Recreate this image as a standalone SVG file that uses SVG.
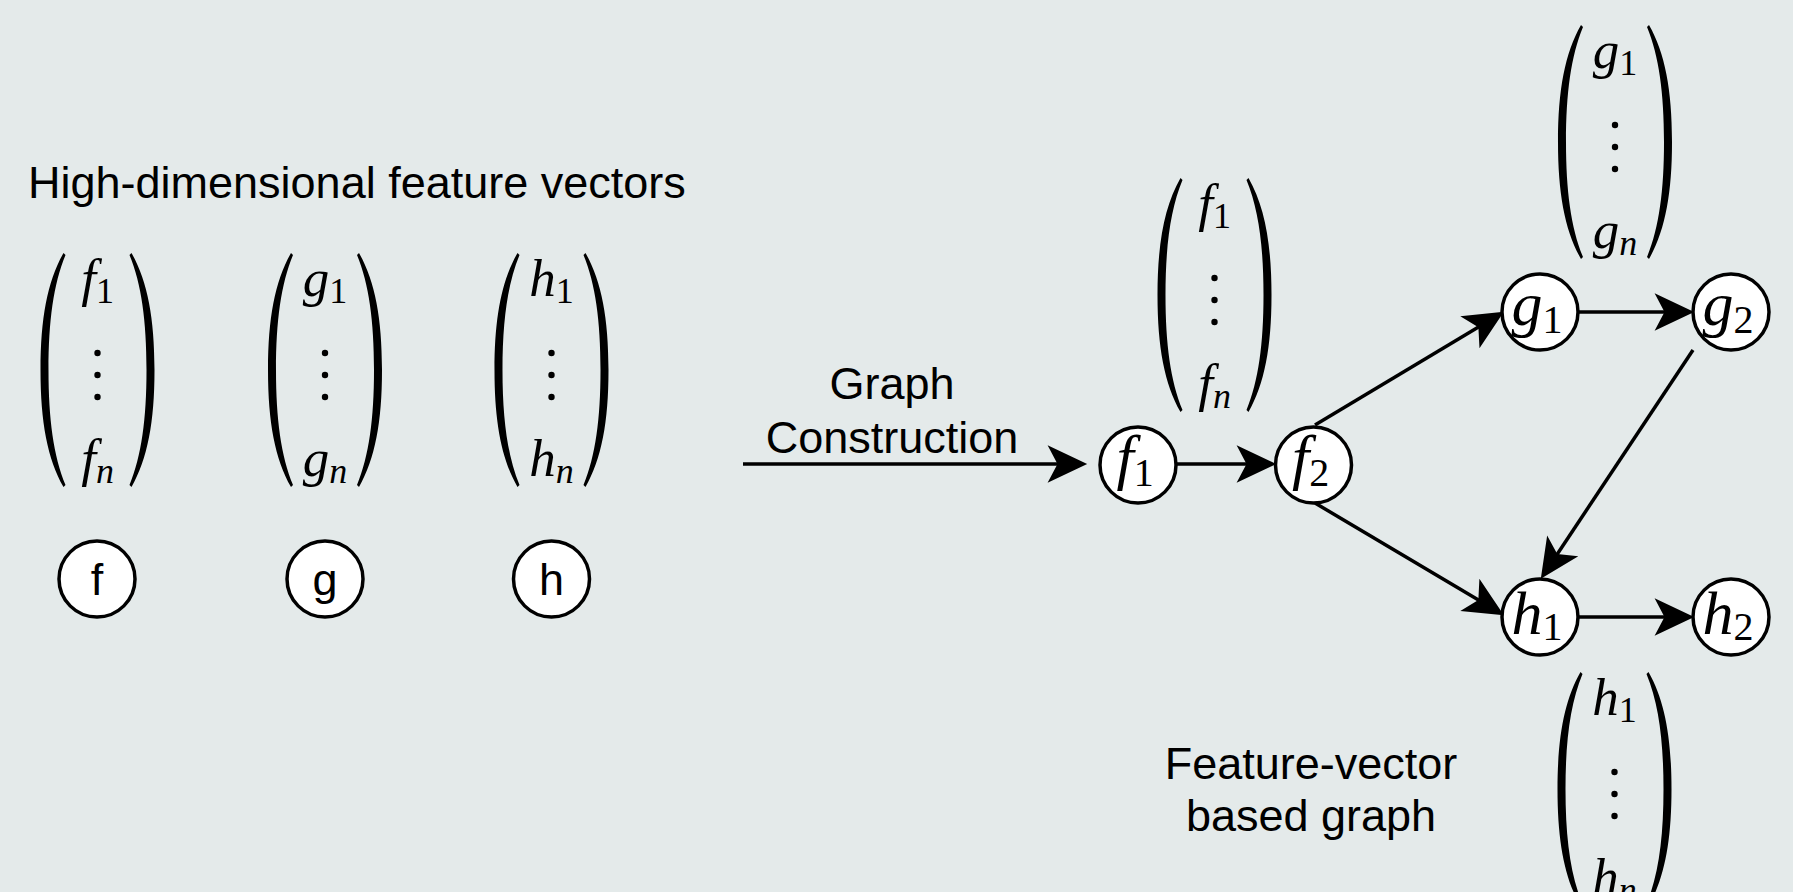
<svg xmlns="http://www.w3.org/2000/svg" xmlns:xlink="http://www.w3.org/1999/xlink" width="1793" height="892" viewBox="0 0 1793 892">
  <style>
    .sans { font-family: "Liberation Sans", Arial, Helvetica, sans-serif; fill: #000; }
    .lbl { font-size: 45px; }
    .m { font-family: "Liberation Serif", "Times New Roman", serif; font-style: italic; fill: #000; text-anchor: middle; }
    .vm { font-size: 53px; }
    .vs { font-size: 36px; font-style: normal; }
    .vsi { font-size: 36px; font-style: italic; }
    .nm { font-size: 62px; }
    .ns { font-size: 40px; font-style: normal; }
    .node circle { fill: #fff; stroke: #000; stroke-width: 3.5; }
    .edge { stroke: #000; stroke-width: 3.5; fill: none; marker-end: url(#arr); }
  </style>
  <defs>
    <marker id="arr" markerUnits="userSpaceOnUse" markerWidth="44" markerHeight="44" viewBox="-16 -20 40 40" refX="0" refY="0" orient="auto">
      <path d="M22,0 L-14,-17 L-5,0 L-14,17 Z" fill="#000"/>
    </marker>
    <path id="lp" d="M24,0 C8,28 1,65 1,117 C1,169 8,206 24,234 L26,232 C14,203 9,166 9,117 C9,68 14,31 26,2 Z" fill="#000"/>
    <g id="parens">
      <use xlink:href="#lp" transform="translate(-58,0)"/>
      <use xlink:href="#lp" transform="translate(58,0) scale(-1,1)"/>
      <circle cx="0" cy="100" r="3.2" fill="#000"/>
      <circle cx="0" cy="122" r="3.2" fill="#000"/>
      <circle cx="0" cy="144" r="3.2" fill="#000"/>
    </g>
  </defs>

  <rect x="0" y="0" width="1793" height="892" fill="#e4eaea"/>

  <text class="sans lbl" x="28" y="198">High-dimensional feature vectors</text>

  <!-- left feature vectors -->
  <g id="vec-f-left" transform="translate(97.5,253)">
    <use xlink:href="#parens"/>
    <text class="m vm" x="0" y="43">f<tspan class="vs" dy="7">1</tspan></text>
    <text class="m vm" x="0" y="223">f<tspan class="vsi" dy="7">n</tspan></text>
  </g>
  <g id="vec-g-left" transform="translate(325,253)">
    <use xlink:href="#parens"/>
    <text class="m vm" x="0" y="43">g<tspan class="vs" dy="7">1</tspan></text>
    <text class="m vm" x="0" y="223">g<tspan class="vsi" dy="7">n</tspan></text>
  </g>
  <g id="vec-h-left" transform="translate(551.5,253)">
    <use xlink:href="#parens"/>
    <text class="m vm" x="0" y="43">h<tspan class="vs" dy="7">1</tspan></text>
    <text class="m vm" x="0" y="223">h<tspan class="vsi" dy="7">n</tspan></text>
  </g>

  <!-- left nodes -->
  <g id="node-f" class="node" transform="translate(97,579)">
    <circle r="38"/>
    <text class="sans" font-size="45" text-anchor="middle" y="16">f</text>
  </g>
  <g id="node-g" class="node" transform="translate(325,579)">
    <circle r="38"/>
    <text class="sans" font-size="45" text-anchor="middle" y="16">g</text>
  </g>
  <g id="node-h" class="node" transform="translate(551.5,579)">
    <circle r="38"/>
    <text class="sans" font-size="45" text-anchor="middle" y="16">h</text>
  </g>

  <!-- construction label -->
  <text class="sans lbl" x="892" y="399" text-anchor="middle">Graph</text>
  <text class="sans lbl" x="892" y="453" text-anchor="middle">Construction</text>

  <!-- right vectors -->
  <g id="vec-f-right" transform="translate(1214.5,178)">
    <use xlink:href="#parens"/>
    <text class="m vm" x="0" y="43">f<tspan class="vs" dy="7">1</tspan></text>
    <text class="m vm" x="0" y="223">f<tspan class="vsi" dy="7">n</tspan></text>
  </g>
  <g id="vec-g-right" transform="translate(1615,25)">
    <use xlink:href="#parens"/>
    <text class="m vm" x="0" y="43">g<tspan class="vs" dy="7">1</tspan></text>
    <text class="m vm" x="0" y="223">g<tspan class="vsi" dy="7">n</tspan></text>
  </g>
  <g id="vec-h-right" transform="translate(1614.5,672)">
    <use xlink:href="#parens"/>
    <text class="m vm" x="0" y="43">h<tspan class="vs" dy="7">1</tspan></text>
    <text class="m vm" x="0" y="223">h<tspan class="vsi" dy="7">n</tspan></text>
  </g>

  <!-- connectors -->
  <g id="connectors">
    <line class="edge" x1="743" y1="464" x2="1063" y2="464"/>
    <line class="edge" x1="1176" y1="464" x2="1252" y2="464"/>
    <line class="edge" x1="1315" y1="425" x2="1483.1" y2="324.3"/>
    <line class="edge" x1="1579" y1="312" x2="1670" y2="312"/>
    <line class="edge" x1="1693" y1="350" x2="1554.2" y2="558.7"/>
    <line class="edge" x1="1315" y1="503" x2="1483.1" y2="602.8"/>
    <line class="edge" x1="1579" y1="617" x2="1670" y2="617"/>
  </g>

  <!-- right graph nodes -->
  <g id="node-f1" class="node" transform="translate(1138,465)">
    <circle r="38"/>
    <text class="m nm" x="-3" y="13">f<tspan class="ns" dy="8">1</tspan></text>
  </g>
  <g id="node-f2" class="node" transform="translate(1313.5,465)">
    <circle r="38"/>
    <text class="m nm" x="-3" y="13">f<tspan class="ns" dy="8">2</tspan></text>
  </g>
  <g id="node-g1" class="node" transform="translate(1540,312)">
    <circle r="38"/>
    <text class="m nm" x="-3" y="13">g<tspan class="ns" dy="8">1</tspan></text>
  </g>
  <g id="node-g2" class="node" transform="translate(1731,312)">
    <circle r="38"/>
    <text class="m nm" x="-3" y="13">g<tspan class="ns" dy="8">2</tspan></text>
  </g>
  <g id="node-h1" class="node" transform="translate(1540,617)">
    <circle r="38"/>
    <text class="m nm" x="-3" y="17">h<tspan class="ns" dy="6">1</tspan></text>
  </g>
  <g id="node-h2" class="node" transform="translate(1731,617)">
    <circle r="38"/>
    <text class="m nm" x="-3" y="17">h<tspan class="ns" dy="6">2</tspan></text>
  </g>

  <text class="sans lbl" x="1311" y="779" text-anchor="middle">Feature-vector</text>
  <text class="sans lbl" x="1311" y="831" text-anchor="middle">based graph</text>
</svg>
